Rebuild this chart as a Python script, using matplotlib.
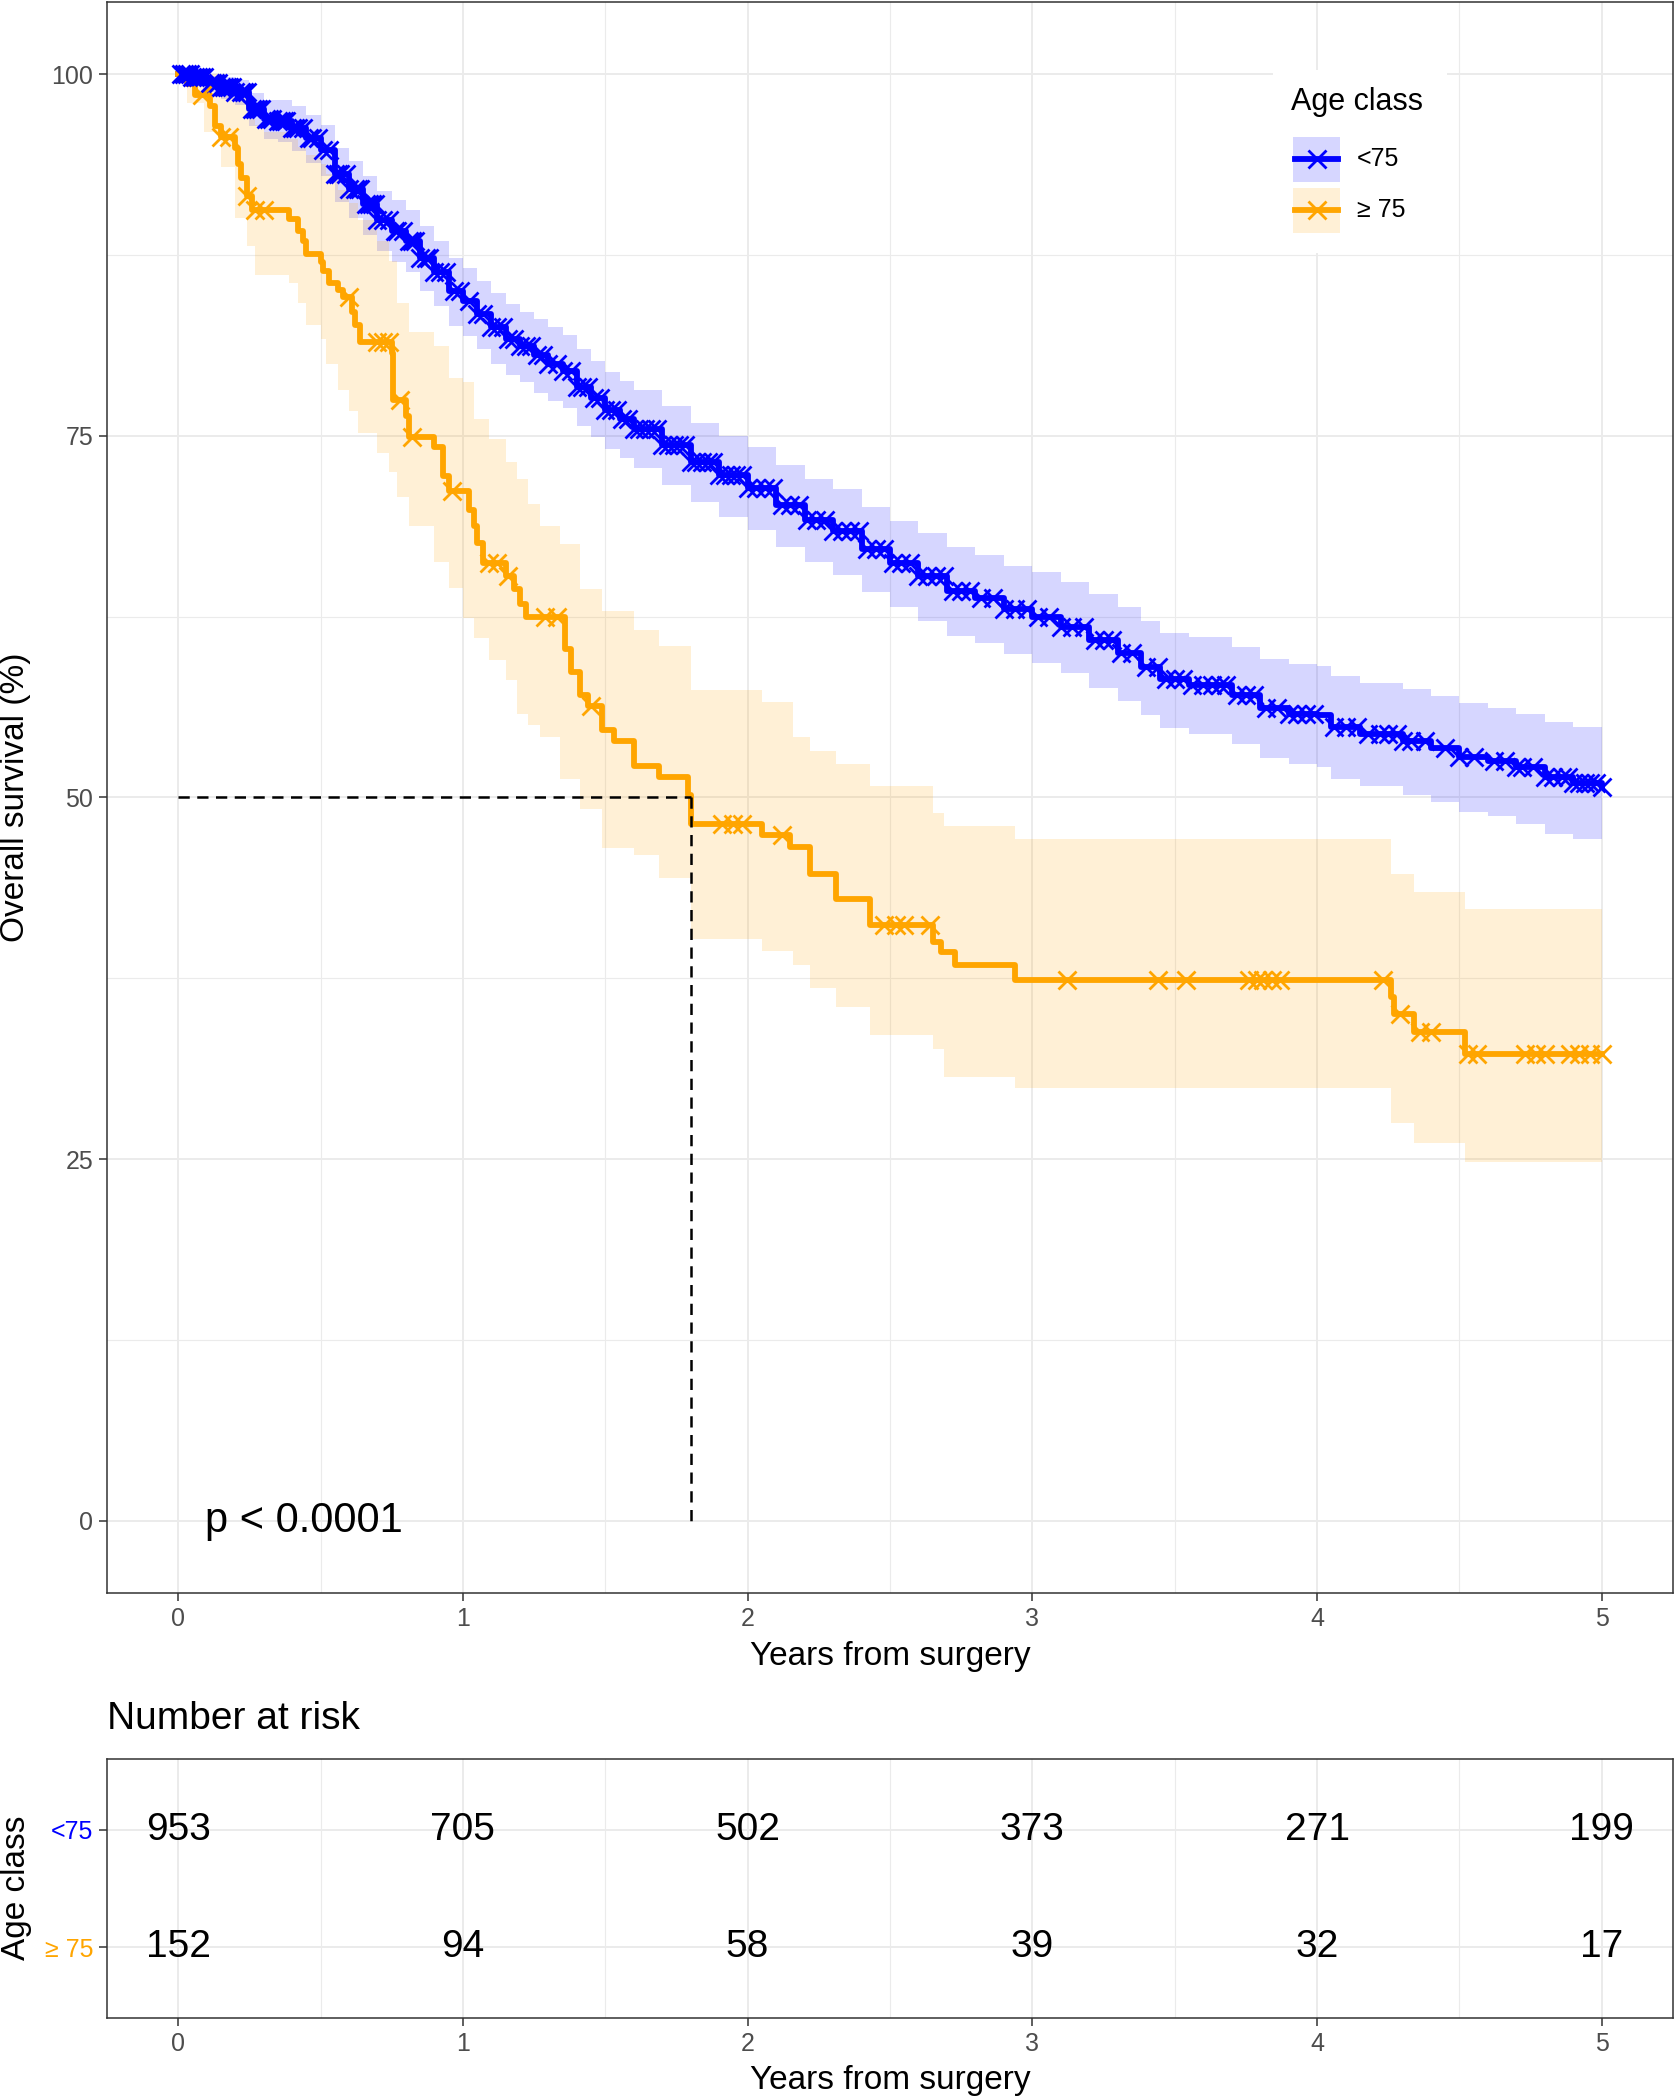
"""Kaplan-Meier overall survival by age class, with number-at-risk table."""
import numpy as np
import matplotlib
matplotlib.use('Agg')
import matplotlib.pyplot as plt
from matplotlib.patches import Rectangle
from matplotlib.ticker import MultipleLocator

BLUE = '#0000FF'
ORANGE = '#FFA500'
GRID = '#EBEBEB'
FRAME = '#333333'
TICKTXT = '#4D4D4D'

plt.rcParams['font.family'] = ['Liberation Sans', 'DejaVu Sans']

groups = ['<75', '\u2265 75']

# ---- <75 survival curve (years, %) with 95% band ----
young_t = [0, 0.05, 0.10, 0.15, 0.20, 0.25, 0.30, 0.35, 0.40, 0.45, 0.50, 0.55, 0.60,
           0.65, 0.70, 0.75, 0.80, 0.85, 0.90, 0.95, 1.00, 1.05, 1.10, 1.15, 1.20, 1.25,
           1.30, 1.35, 1.40, 1.45, 1.50, 1.55, 1.60, 1.70, 1.80, 1.90, 2.00, 2.10, 2.20,
           2.30, 2.40, 2.50, 2.60, 2.70, 2.80, 2.90, 3.00, 3.10, 3.20, 3.30, 3.38, 3.45,
           3.55, 3.70, 3.80, 3.90, 4.00, 4.05, 4.15, 4.30, 4.40, 4.50, 4.60, 4.70, 4.80,
           4.90, 5.00]
young_s = [100, 99.8, 99.4, 99.1, 98.8, 97.6, 96.9, 96.8, 96.3, 95.6, 94.8, 93.1, 92.1,
           91.0, 89.9, 89.2, 88.5, 87.3, 86.3, 85.0, 84.3, 83.4, 82.5, 81.7, 81.2, 80.6,
           80.0, 79.5, 78.4, 77.6, 76.8, 76.2, 75.5, 74.4, 73.2, 72.3, 71.4, 70.2, 69.2,
           68.4, 67.2, 66.2, 65.3, 64.3, 63.8, 63.0, 62.5, 61.8, 60.9, 60.0, 59.0, 58.2,
           57.8, 57.1, 56.2, 55.8, 55.7, 54.9, 54.4, 53.9, 53.4, 52.8, 52.5, 52.1, 51.4,
           51.0, 50.7]
young_hi = [100, 100, 99.9, 99.8, 99.6, 98.7, 98.2, 98.2, 97.8, 97.2, 96.5, 94.9, 94.0,
            93.0, 91.9, 91.3, 90.6, 89.5, 88.5, 87.3, 86.6, 85.7, 84.9, 84.1, 83.6, 83.1,
            82.5, 82.0, 81.0, 80.2, 79.4, 78.8, 78.2, 77.1, 75.9, 75.0, 74.2, 73.0, 72.0,
            71.3, 70.1, 69.1, 68.3, 67.3, 66.8, 66.0, 65.6, 64.9, 64.1, 63.2, 62.2, 61.4,
            61.1, 60.4, 59.6, 59.2, 59.1, 58.4, 57.9, 57.5, 57.0, 56.5, 56.2, 55.8, 55.2,
            54.9, 54.6]
young_lo = [100, 99.4, 98.8, 98.3, 97.9, 96.4, 95.5, 95.3, 94.7, 93.9, 93.0, 91.2, 90.1,
            88.9, 87.8, 87.0, 86.3, 85.0, 84.0, 82.6, 81.9, 81.0, 80.0, 79.2, 78.7, 78.0,
            77.4, 76.9, 75.7, 74.9, 74.1, 73.5, 72.8, 71.6, 70.4, 69.4, 68.5, 67.3, 66.3,
            65.4, 64.2, 63.2, 62.2, 61.2, 60.7, 59.9, 59.3, 58.6, 57.6, 56.7, 55.7, 54.8,
            54.4, 53.7, 52.7, 52.3, 52.1, 51.3, 50.8, 50.2, 49.7, 49.0, 48.7, 48.2, 47.5,
            47.1, 46.9]
young_cens = [0.01, 0.02, 0.03, 0.04, 0.05, 0.06, 0.07, 0.08, 0.09, 0.11, 0.12, 0.13, 0.14,
              0.15, 0.16, 0.17, 0.18, 0.19, 0.2, 0.22, 0.23, 0.24, 0.26, 0.27, 0.28, 0.29,
              0.31, 0.32, 0.33, 0.35, 0.36, 0.37, 0.38, 0.4, 0.41, 0.42, 0.44, 0.46, 0.47,
              0.49, 0.51, 0.53, 0.55, 0.56, 0.57, 0.59, 0.6, 0.62, 0.63, 0.64, 0.66, 0.67,
              0.68, 0.69, 0.7, 0.72, 0.74, 0.76, 0.77, 0.79, 0.81, 0.82, 0.83, 0.85, 0.87,
              0.88, 0.9, 0.92, 0.94, 0.97, 0.99, 1.02, 1.05, 1.07, 1.1, 1.12, 1.14, 1.16,
              1.18, 1.2, 1.22, 1.24, 1.26, 1.28, 1.3, 1.33, 1.35, 1.38, 1.4, 1.42, 1.44,
              1.46, 1.48, 1.5, 1.52, 1.54, 1.56, 1.58, 1.6, 1.62, 1.64, 1.66, 1.68, 1.7,
              1.72, 1.74, 1.76, 1.78, 1.8, 1.82, 1.84, 1.86, 1.88, 1.9, 1.92, 1.94, 1.96,
              1.98, 2.0, 2.03, 2.06, 2.09, 2.12, 2.15, 2.18, 2.21, 2.24, 2.27, 2.3, 2.33,
              2.36, 2.39, 2.42, 2.45, 2.48, 2.51, 2.54, 2.57, 2.6, 2.63, 2.66, 2.69, 2.72,
              2.75, 2.78, 2.82, 2.86, 2.9, 2.94, 2.98, 3.02, 3.06, 3.1, 3.14, 3.18, 3.22,
              3.25, 3.28, 3.31, 3.35, 3.4, 3.44, 3.47, 3.5, 3.53, 3.56, 3.6, 3.63, 3.66,
              3.68, 3.72, 3.75, 3.78, 3.82, 3.86, 3.9, 3.93, 3.96, 3.99, 4.06, 4.1, 4.14,
              4.18, 4.22, 4.25, 4.28, 4.3, 4.33, 4.38, 4.45, 4.5, 4.55, 4.62, 4.66, 4.7,
              4.72, 4.76, 4.8, 4.83, 4.86, 4.88, 4.9, 4.92, 4.94, 4.96, 4.98, 5.0]

# ---- >=75 survival curve ----
old_t = [0, 0.03, 0.06, 0.11, 0.13, 0.15, 0.20, 0.21, 0.22, 0.24, 0.26, 0.39, 0.42, 0.44,
         0.45, 0.50, 0.51, 0.53, 0.56, 0.58, 0.61, 0.62, 0.64, 0.75, 0.755, 0.80, 0.81,
         0.90, 0.93, 0.95, 1.02, 1.04, 1.05, 1.07, 1.15, 1.18, 1.20, 1.22, 1.36, 1.38,
         1.41, 1.44, 1.49, 1.53, 1.60, 1.69, 1.79, 1.80, 2.05, 2.15, 2.22, 2.31, 2.43,
         2.65, 2.68, 2.73, 2.94, 4.26, 4.27, 4.34, 4.52]
old_s = [100, 99.3, 98.6, 97.8, 96.4, 95.7, 94.9, 93.8, 92.8, 91.6, 90.6, 90.0, 89.2, 88.5,
         87.6, 87.0, 86.4, 85.6, 85.1, 84.6, 83.6, 82.7, 81.5, 80.7, 77.5, 76.4, 74.9,
         74.2, 72.2, 71.2, 69.9, 68.8, 67.6, 66.2, 65.3, 64.4, 63.4, 62.5, 60.3, 58.7,
         57.1, 56.3, 54.7, 53.9, 52.2, 51.4, 50.2, 48.2, 47.4, 46.6, 44.7, 43.0, 41.2,
         40.0, 39.3, 38.4, 37.4, 36.2, 35.0, 33.8, 32.3]
old_ci_t = [0, 0.03, 0.09, 0.15, 0.2, 0.24, 0.27, 0.3, 0.39, 0.42, 0.45, 0.5, 0.52, 0.56,
            0.6, 0.63, 0.7, 0.74, 0.77, 0.81, 0.9, 0.95, 1.0, 1.04, 1.09, 1.15, 1.19, 1.23,
            1.27, 1.34, 1.41, 1.49, 1.6, 1.69, 1.8, 2.05, 2.16, 2.22, 2.31, 2.43, 2.65,
            2.69, 2.94, 4.26, 4.34, 4.52]
old_hi = [100, 100, 100, 99.5, 98.5, 97.5, 96.5, 96.0, 95.5, 95.0, 94.4, 93.8, 93.1, 92.0,
          91.1, 89.9, 88.5, 87.1, 84.2, 82.2, 81.2, 79.0, 78.7, 76.2, 74.8, 73.2, 72.0,
          70.3, 68.8, 67.5, 64.4, 62.9, 61.6, 60.5, 57.4, 56.6, 54.2, 53.2, 52.3, 50.8,
          48.9, 48.0, 47.1, 44.7, 43.5, 42.3]
old_lo = [100, 98.0, 96.0, 93.6, 90.1, 88.1, 86.1, 86.1, 85.6, 84.2, 82.7, 81.7, 80.0,
          78.2, 76.7, 75.2, 73.8, 72.5, 70.8, 68.8, 66.3, 64.5, 62.4, 61.0, 59.5, 58.1,
          55.8, 55.0, 54.2, 51.3, 49.2, 46.5, 46.0, 44.4, 40.2, 39.4, 38.4, 36.8, 35.5,
          33.6, 32.6, 30.7, 29.9, 27.5, 26.1, 24.8]
old_cens = [0.085, 0.15, 0.18, 0.24, 0.27, 0.30, 0.60, 0.70, 0.72, 0.74, 0.78, 0.82, 0.96,
            1.09, 1.12, 1.16, 1.29, 1.33, 1.45, 1.91, 1.95, 1.98, 2.12, 2.48, 2.52, 2.55,
            2.64, 3.12, 3.44, 3.54, 3.76, 3.79, 3.81, 3.84, 3.87, 4.23, 4.29, 4.36, 4.40,
            4.53, 4.56, 4.73, 4.77, 4.80, 4.89, 4.92, 4.96, 5.0]

# ---- number at risk ----
risk_times = [0, 1, 2, 3, 4, 5]
risk_young = [953, 705, 502, 373, 271, 199]
risk_old = [152, 94, 58, 39, 32, 17]
p_text = 'p < 0.0001'

W, H = 1676, 2100
fig = plt.figure(figsize=(W / 100, H / 100), dpi=100)


def box(l, t, r, b):
    return [l / W, 1 - b / H, (r - l) / W, (b - t) / H]


def style(a):
    a.set_facecolor('white')
    a.set_axisbelow(True)
    for s in a.spines.values():
        s.set_color(FRAME)
        s.set_linewidth(1.1)
    a.tick_params(which='major', length=6, width=1.1, color=FRAME, labelsize=18,
                  labelcolor=TICKTXT, pad=4)
    a.tick_params(which='minor', length=0)
    a.grid(which='major', color=GRID, lw=1.4)
    a.grid(which='minor', color=GRID, lw=0.8)


def extend(t, v, t_end):
    t = list(t) + [t_end]
    v = list(v) + [v[-1]]
    return np.array(t), np.array(v)


def surv_at(t, s, x):
    idx = np.searchsorted(np.asarray(t), np.asarray(x), side='right') - 1
    return np.asarray(s)[idx]


ax = fig.add_axes(box(107, 2, 1673, 1593))
style(ax)

curves = [
    (young_t, young_s, young_t, young_hi, young_lo, young_cens, BLUE),
    (old_t, old_s, old_ci_t, old_hi, old_lo, old_cens, ORANGE),
]

for t, s, ct, hi, lo, cens, col in curves:
    t_end = max(cens)
    ctx, hix = extend(ct, hi, t_end)
    _, lox = extend(ct, lo, t_end)
    ax.fill_between(ctx, lox, hix, step='post', color=col, alpha=0.16, lw=0, zorder=2)

for t, s, ct, hi, lo, cens, col in curves:
    tx, sx = extend(t, s, max(cens))
    ax.step(tx, sx, where='post', color=col, lw=4.2, zorder=3)

for t, s, ct, hi, lo, cens, col in curves:
    ax.plot(cens, surv_at(t, s, cens), ls='none', marker='x', ms=13, mew=2.0,
            color=col, zorder=4)

# median survival of the >=75 group
old_arr = np.array(old_s)
median_t = np.array(old_t)[np.argmax(old_arr <= 50)]
ax.plot([0, median_t], [50, 50], color='black', lw=1.8, dashes=(4.5, 3), zorder=5)
ax.plot([median_t, median_t], [50, 0], color='black', lw=1.8, dashes=(4.5, 3), zorder=5)

ax.text(0.095, 0, p_text, fontsize=30, ha='left', va='center', color='black')

ax.set_xlim(-0.25, 5.25)
ax.set_ylim(-5, 105)
ax.set_xticks(range(0, 6))
ax.set_yticks([0, 25, 50, 75, 100])
ax.xaxis.set_minor_locator(MultipleLocator(0.5))
ax.yaxis.set_minor_locator(MultipleLocator(12.5))

fig.text(16 / W, 1 - 797 / H, 'Overall survival (%)', rotation=90, fontsize=24,
         ha='center', va='center')
fig.text(890 / W, 1 - 1656 / H, 'Years from surgery', fontsize=24, ha='center', va='center')

# legend drawn in a small inset (pixel coordinates)
lg = fig.add_axes(box(1273, 70, 1447, 253))
lg.set_xlim(1273, 1447)
lg.set_ylim(253, 70)
lg.axis('off')
lg.add_patch(Rectangle((1273, 70), 174, 183, color='white', zorder=0))
lg.text(1291, 102, 'Age class', fontsize=22, ha='left', va='center')
for yc, col, lab in [(159, BLUE, groups[0]), (210, ORANGE, groups[1])]:
    lg.add_patch(Rectangle((1293, yc - 22), 47, 45, color=col, alpha=0.16, lw=0))
    lg.plot([1295, 1338], [yc, yc], color=col, lw=4.2)
    lg.plot([1316.5], [yc], marker='x', ms=13, mew=2.0, color=col)
    lg.text(1357, yc, lab, fontsize=18, ha='left', va='center')

# ---- risk table ----
fig.text(107 / W, 1 - 1719 / H, 'Number at risk', fontsize=28, ha='left', va='center')

axr = fig.add_axes(box(107, 1759, 1673, 2018))
style(axr)
axr.set_xlim(-0.25, 5.25)
axr.set_ylim(0.4, 2.6)
axr.set_xticks(range(0, 6))
axr.xaxis.set_minor_locator(MultipleLocator(0.5))
axr.set_yticks([2, 1])
axr.set_yticklabels(groups, fontsize=18)
for lab, col in zip(axr.get_yticklabels(), [BLUE, ORANGE]):
    lab.set_color(col)

for x, n in zip(risk_times, risk_young):
    axr.text(x, 2, str(n), fontsize=28, ha='center', va='center')
for x, n in zip(risk_times, risk_old):
    axr.text(x, 1, str(n), fontsize=28, ha='center', va='center')

fig.text(16 / W, 1 - 1888 / H, 'Age class', rotation=90, fontsize=24,
         ha='center', va='center')
fig.text(890 / W, 1 - 2081 / H, 'Years from surgery', fontsize=24, ha='center', va='center')

fig.savefig('out.png', dpi=100)
